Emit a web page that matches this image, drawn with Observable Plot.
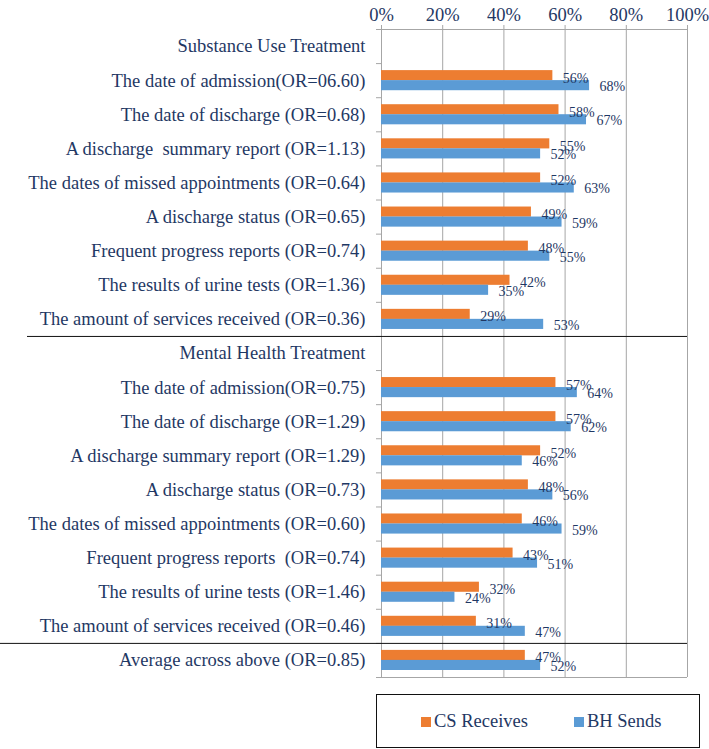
<!DOCTYPE html>
<html>
<head>
<meta charset="utf-8">
<script src="https://cdn.jsdelivr.net/npm/d3@7"></script>
<script src="https://cdn.jsdelivr.net/npm/@observablehq/plot@0.6"></script>
<style>
  html, body { margin: 0; padding: 0; background: #fff; }
  #wrap { position: relative; width: 709px; height: 749px; font-family: "Liberation Serif", "Times New Roman", serif; color: #1f3864; }
  #legend { position: absolute; left: 376px; top: 694px; width: 324px; height: 54px; box-sizing: border-box; border: 1.5px solid #111; }
  .sw { position: absolute; width: 10px; height: 10px; top: 22px; }
  .lt { position: absolute; top: 15px; font-size: 18.5px; line-height: 22px; white-space: pre; }
</style>
</head>
<body>
<div id="wrap">
  <div id="chart"></div>
  <div id="legend"></div>
</div>
<script>
const labels = [
  "Substance Use Treatment",
  "The date of admission(OR=06.60)",
  "The date of discharge (OR=0.68)",
  "A discharge  summary report (OR=1.13)",
  "The dates of missed appointments (OR=0.64)",
  "A discharge status (OR=0.65)",
  "Frequent progress reports (OR=0.74)",
  "The results of urine tests (OR=1.36)",
  "The amount of services received (OR=0.36)",
  "Mental Health Treatment",
  "The date of admission(OR=0.75)",
  "The date of discharge (OR=1.29)",
  "A discharge summary report (OR=1.29)",
  "A discharge status (OR=0.73)",
  "The dates of missed appointments (OR=0.60)",
  "Frequent progress reports  (OR=0.74)",
  "The results of urine tests (OR=1.46)",
  "The amount of services received (OR=0.46)",
  "Average across above (OR=0.85)"
];
const csReceives = [null, 56, 58, 55, 52, 49, 48, 42, 29, null, 57, 57, 52, 48, 46, 43, 32, 31, 47];
const bhSends   = [null, 68, 67, 52, 63, 59, 55, 35, 53, null, 64, 62, 46, 56, 59, 51, 24, 47, 52];
const seriesNames = ["CS Receives", "BH Sends"];
const xTicks = [0, 20, 40, 60, 80, 100];

const orange = "#ED7D31", blue = "#5B9BD5", navy = "#1f3864", gray = "#a6a6a6";
const n = labels.length;
const rows = labels.map((label, i) => ({i, label, cs: csReceives[i], bh: bhSends[i]}));
const barRows = rows.filter(d => d.cs != null);

const chart = Plot.plot({
  width: 709,
  height: 690,
  marginLeft: 381,
  marginRight: 22,
  marginTop: 29,
  marginBottom: 13,
  style: {fontFamily: '"Liberation Serif", "Times New Roman", serif', fontSize: "18.5px", color: navy, background: "#fff", overflow: "visible"},
  x: {domain: [0, 100]},
  y: {domain: [0, n], reverse: true},
  marks: [
    Plot.ruleX(xTicks.slice(1), {y1: 0, y2: n, stroke: gray}),
    Plot.ruleX([0], {y1: 0, y2: n, stroke: gray}),
    Plot.ruleY([0], {stroke: gray}),
    Plot.ruleY([n], {stroke: gray, insetLeft: -5}),
    Plot.axisX(xTicks, {anchor: "top", tickSize: 5, tickPadding: 4, stroke: gray, tickFormat: d => d + "%", label: null, fontSize: 18.5}),
    Plot.axisY(d3.range(0, n + 1), {tickSize: 5, tickFormat: () => "", stroke: gray, label: null}),
    Plot.axisY(labels.map((_, i) => i + 0.5), {tickSize: 0, tickPadding: 16, tickFormat: d => labels[Math.floor(d)], label: null, fontSize: 18.5}),
    Plot.rectX(barRows, {x1: 0, x2: "cs", y1: "i", y2: d => d.i + 1, fill: orange, insetTop: 7, insetBottom: 17}),
    Plot.rectX(barRows, {x1: 0, x2: "bh", y1: "i", y2: d => d.i + 1, fill: blue, insetTop: 17, insetBottom: 7}),
    Plot.text(barRows, {x: "cs", y: d => d.i + 0.5, text: d => d.cs + "%", dx: 10, dy: -2.5, textAnchor: "start", fontSize: 14, fill: navy}),
    Plot.text(barRows, {x: "bh", y: d => d.i + 0.5, text: d => d.bh + "%", dx: 10, dy: 6, textAnchor: "start", fontSize: 14, fill: navy}),
    Plot.ruleY([9], {stroke: "#111", insetLeft: -354}),
    Plot.ruleY([18], {stroke: "#111", insetLeft: -381})
  ]
});
document.getElementById("chart").appendChild(chart);

const legend = document.getElementById("legend");
const items = [
  {name: seriesNames[0], color: orange, sx: 44, tx: 57},
  {name: seriesNames[1], color: blue, sx: 197, tx: 210}
];
for (const it of items) {
  const sw = document.createElement("div");
  sw.className = "sw"; sw.style.left = it.sx + "px"; sw.style.background = it.color;
  const t = document.createElement("div");
  t.className = "lt"; t.style.left = it.tx + "px"; t.textContent = it.name;
  legend.appendChild(sw); legend.appendChild(t);
}
</script>
</body>
</html>
